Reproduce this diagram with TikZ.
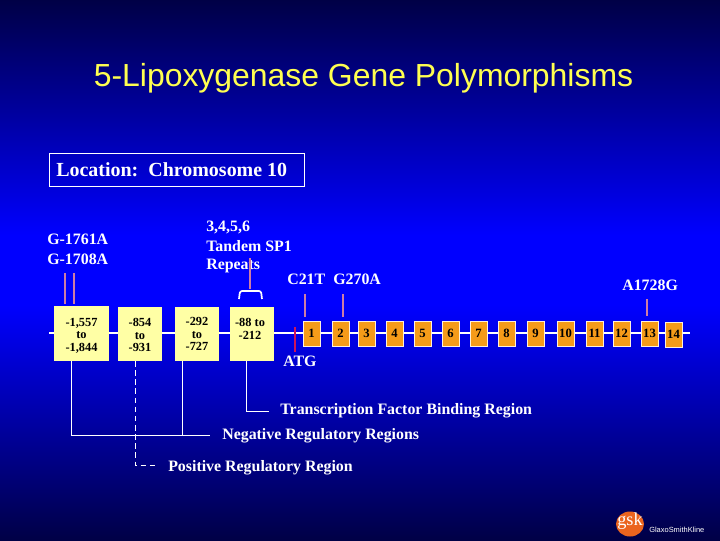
\documentclass[tikz,border=0pt]{standalone}
\usepackage{fontspec}
\setmainfont{Liberation Serif}
\newfontfamily\titlefont{Liberation Sans}
\definecolor{slideedge}{RGB}{0,0,70}
\definecolor{slidemid}{RGB}{0,0,255}
\definecolor{titleyellow}{RGB}{255,255,80}
\definecolor{promoter}{RGB}{255,255,165}
\definecolor{exon}{RGB}{245,155,25}
\definecolor{snptick}{RGB}{205,125,165}
\definecolor{atgtick}{RGB}{205,20,90}
\definecolor{gskorange}{RGB}{235,100,30}
\tikzset{
  label/.style={text=white,font=\fontsize{11.3}{13}\selectfont\bfseries,inner sep=0pt,anchor=west},
  promobox/.style={fill=promoter,draw=none,inner sep=0pt},
  promotext/.style={text=black,font=\fontsize{8.8}{8.8}\selectfont\bfseries,align=center,inner sep=0pt},
  exonbox/.style={fill=exon,draw=white!85!exon,line width=0.6pt,minimum width=17*0.025cm,minimum height=25*0.025cm,inner sep=0pt,font=\fontsize{9}{10}\selectfont\bfseries},
  snp/.style={snptick,line width=1.1pt},
  wire/.style={white,line width=0.7pt}
}
\begin{document}
\begin{tikzpicture}[x=0.025cm,y=-0.025cm]
\path[use as bounding box] (0,0) rectangle (720,540);
\fill[top color=slideedge,bottom color=slidemid] (0,0) rectangle (720,235);
\fill[slidemid] (0,235) rectangle (720,305);
\fill[top color=slidemid,bottom color=slideedge] (0,305) rectangle (720,540);
\node[text=titleyellow,font=\titlefont\fontsize{22.7}{27}\selectfont,inner sep=0pt,anchor=base] (title) at (363.5,86) {5-Lipoxygenase Gene Polymorphisms};
\node[draw=white,line width=0.6pt,minimum width=255*0.025cm,minimum height=33*0.025cm,inner sep=0pt] (location) at (176.5,169.5) {};
\node[text=white,font=\fontsize{14.2}{16}\selectfont\bfseries,inner sep=0pt,anchor=west] (locationtxt) at (56,169.5) {Location:\ \ Chromosome 10};
\coordinate (lineL) at (49,333);
\coordinate (lineR) at (690,333);
\draw[white,line width=1pt] (lineL) -- (lineR);
\node[promobox,minimum width=55*0.025cm,minimum height=55*0.025cm] (regA) at (81.5,333.5) {};
\node[promobox,minimum width=44*0.025cm,minimum height=54*0.025cm] (regB) at (140,334) {};
\node[promobox,minimum width=44*0.025cm,minimum height=54*0.025cm] (regC) at (197,334) {};
\node[promobox,minimum width=44*0.025cm,minimum height=54*0.025cm] (regD) at (252,334) {};
\node[promotext] (txtA) at (81.5,335.5) {-1,557\\to\\-1,844};
\node[promotext] (txtB) at (140,335) {-854\\to\\-931};
\node[promotext] (txtC) at (197,334) {-292\\to\\-727};
\node[promotext] (txtD) at (250,329) {-88 to\\-212};
\foreach \n/\xc in {1/311.5,2/340.5,3/366.5,4/394.5,5/422.5,6/450.5,7/478.5,8/506.5,9/535.5,10/565.5,11/594.5,12/621.5,13/649.5}
  \node[exonbox] (ex\n) at (\xc,333.5) {\n};
\node[exonbox] (ex14) at (673.5,334.5) {14};
% polymorphism ticks
\coordinate (atgT) at (295,327);
\coordinate (atgB) at (295,352);
\draw[atgtick,line width=1.2pt] (atgT) -- (atgB);
\draw[snp] (65,273) -- (65,304);
\draw[snp] (74,273) -- (74,304);
\draw[snp] (305,294) -- (305,317);
\draw[snp] (343,294) -- (343,317);
\draw[snp] (647,299) -- (647,316);
% labels
\node[label] (g1761) at (47,239) {G-1761A};
\node[label] (g1708) at (47,259) {G-1708A};
\node[label] (sp1a) at (206,227) {3,4,5,6};
\node[label] (sp1b) at (206,246.5) {Tandem SP1};
\node[label] (sp1c) at (206,266) {Repeats};
\node[label] (c21t) at (287,279) {C21T};
\node[label] (g270a) at (333,279) {G270A};
\node[label] (a1728g) at (622,285) {A1728G};
\node[label] (atg) at (283,361) {ATG};
\node[label] (tfbr) at (280,410.5) {Transcription Factor Binding Region};
\node[label] (nrr) at (222,436) {Negative Regulatory Regions};
\node[label] (prr) at (168,468) {Positive Regulatory Region};
% bracket over the repeats
\draw[snp] (250,258) -- (250,289);
\draw[white,line width=1.2pt,rounded corners=1.5pt] (239,299) -- (240,291) -- (261,291) -- (262,299);
% region leaders
\draw[wire] (246,361) |- (269,411);
\draw[wire] (71,361) |- (210,435);
\draw[wire] (182,361) -- (182,435);
\draw[wire,dash pattern=on 4pt off 2.5pt] (135,361) |- (157,465);
% logo
\fill[gskorange] (630,524) ellipse (14 and 12.5);
\node[text=white,font=\fontsize{13}{14}\selectfont,inner sep=0pt] (gsk) at (630,521) {gsk};
\node[text=white,font=\titlefont\fontsize{5.3}{6}\selectfont,inner sep=0pt,anchor=west] (gsktext) at (649,530) {GlaxoSmithKline};
\end{tikzpicture}
\end{document}
